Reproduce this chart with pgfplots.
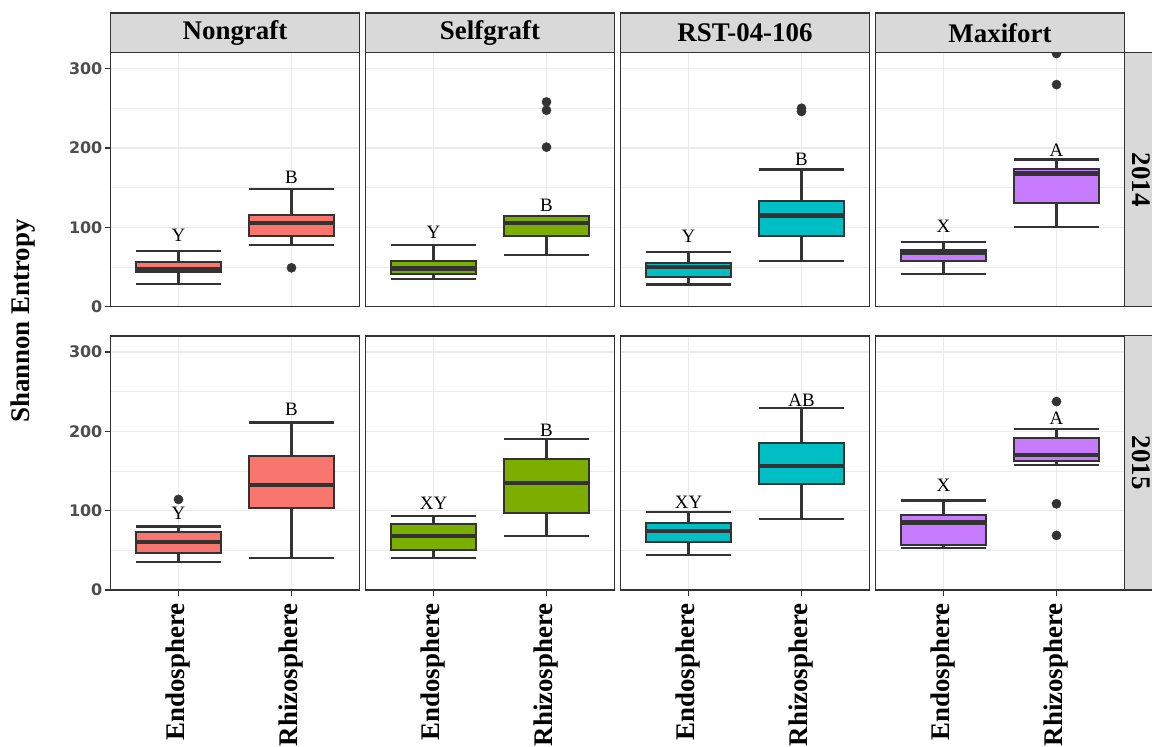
\documentclass[border=0pt]{standalone}
\usepackage{fontspec}
\setmainfont{Liberation Serif}
\newfontfamily\ticksf{DejaVu Sans}
\usepackage{pgfplots}
\pgfplotsset{compat=1.18}
\definecolor{cNon}{HTML}{F8766D}
\definecolor{cSelf}{HTML}{7CAE00}
\definecolor{cRST}{HTML}{00BFC4}
\definecolor{cMax}{HTML}{C77CFF}
\definecolor{g20}{HTML}{333333}
\definecolor{g30}{HTML}{4D4D4D}
\definecolor{g85}{HTML}{D9D9D9}
\definecolor{g92}{HTML}{EBEBEB}
\newcommand{\bigfont}{\bfseries\fontsize{27}{27}\selectfont}
\newcommand{\letfont}{\fontsize{19}{19}\selectfont}
\tikzset{letlab/.style={font=\letfont, text=black}}
\pgfplotsset{
  panel/.style={
    scale only axis, width=248.6bp, height=254bp, anchor=south west,
    xmin=0.4, xmax=2.6, ymin=0, ymax=320,
    xtick={1,2}, ytick={0,100,200,300}, minor ytick={50,150,250},
    xmajorgrids, ymajorgrids, yminorgrids,
    major grid style={g92, line width=1.4bp},
    minor grid style={g92, line width=0.8bp},
    axis line style={g20, line width=1.3bp},
    xticklabels={}, yticklabels={},
    tick align=outside, major tick length=5.7bp, minor tick length=0pt,
    xtick pos=bottom, ytick pos=left,
    xtick style={draw=none}, ytick style={draw=none},
    minor y tick style={draw=none},
    /pgf/number format/assume math mode=true,
  },
  yfirst/.style={
    ytick style={draw=g20, line width=1.3bp},
    yticklabels={0,100,200,300},
    yticklabel style={font=\ticksf\bfseries\fontsize{16}{16}\selectfont, text=g30, inner sep=2.5bp},
  },
  xbottom/.style={
    xtick style={draw=g20, line width=1.3bp},
    xticklabels={Endosphere,Rhizosphere},
    xticklabel style={font=\bigfont, text=black, rotate=90, anchor=east, inner xsep=7.5bp, inner ysep=2bp},
  },
  outlierpts/.style={only marks, mark=*, mark size=4.6bp, mark options={fill=g20, draw=g20}},
}
% #1 colour, #2 left, #3 centre, #4 right, #5 lower whisker, #6 lower quartile, #7 median, #8 upper quartile, #9 upper whisker
\newcommand{\bx}[9]{%
  \addplot[g20, line width=2.1bp] coordinates {(#3,#5) (#3,#6)};
  \addplot[g20, line width=2.1bp] coordinates {(#3,#8) (#3,#9)};
  \addplot[g20, line width=2.1bp] coordinates {(#2,#5) (#4,#5)};
  \addplot[g20, line width=2.1bp] coordinates {(#2,#9) (#4,#9)};
  \addplot[draw=g20, fill=#1, line width=2bp, line cap=rect] coordinates {(#2,#6) (#4,#6) (#4,#8) (#2,#8) (#2,#6)};
  \addplot[g20, line width=4.2bp] coordinates {(#2,#7) (#4,#7)};
}
\begin{document}
\begin{tikzpicture}
\useasboundingbox (0,0) rectangle (1152bp,747bp);
% ---------------- 2014 ----------------
\begin{axis}[panel, yfirst, at={(110.7bp,440.3bp)}]
  \bx{cNon}{0.625}{1}{1.375}{29}{44}{47.5}{56}{70}
  \bx{cNon}{1.625}{2}{2.375}{78}{89}{105}{115}{148}
  \addplot[outlierpts] coordinates {(2,49)};
  \node[letlab] at (axis cs:1,90.2) {Y};
  \node[letlab] at (axis cs:2,162.8) {B};
\end{axis}
\begin{axis}[panel, at={(365.7bp,440.3bp)}]
  \bx{cSelf}{0.625}{1}{1.375}{35}{41}{48}{57}{77.6}
  \bx{cSelf}{1.625}{2}{2.375}{64.6}{89}{105}{114.5}{114.5}
  \addplot[outlierpts] coordinates {(2,258) (2,247.5) (2,201)};
  \node[letlab] at (axis cs:1,94) {Y};
  \node[letlab] at (axis cs:2,127.5) {B};
\end{axis}
\begin{axis}[panel, at={(620.7bp,440.3bp)}]
  \bx{cRST}{0.625}{1}{1.375}{28}{37.8}{50}{54.5}{68.8}
  \bx{cRST}{1.625}{2}{2.375}{57.5}{89}{115}{133}{172.8}
  \addplot[outlierpts] coordinates {(2,246) (2,250)};
  \node[letlab] at (axis cs:1,89.3) {Y};
  \node[letlab] at (axis cs:2,185.8) {B};
\end{axis}
\begin{axis}[panel, at={(875.7bp,440.3bp)}]
  \bx{cMax}{0.625}{1}{1.375}{40.7}{57.5}{68.4}{72}{81}
  \bx{cMax}{1.625}{2}{2.375}{100}{131}{167.8}{173.7}{185.4}
  \addplot[outlierpts] coordinates {(2,279.8) (2,319)};
  \node[letlab] at (axis cs:1,101.5) {X};
  \node[letlab] at (axis cs:2,197) {A};
\end{axis}
% ---------------- 2015 ----------------
\begin{axis}[panel, yfirst, xbottom, at={(110.7bp,157bp)}]
  \bx{cNon}{0.625}{1}{1.375}{35.7}{47}{60}{72.6}{80}
  \bx{cNon}{1.625}{2}{2.375}{40}{103.6}{132}{169}{211}
  \addplot[outlierpts] coordinates {(1,114.1)};
  \node[letlab] at (axis cs:1,96) {Y};
  \node[letlab] at (axis cs:2,227) {B};
\end{axis}
\begin{axis}[panel, xbottom, at={(365.7bp,157bp)}]
  \bx{cSelf}{0.625}{1}{1.375}{40}{50.3}{68.4}{83}{92.7}
  \bx{cSelf}{1.625}{2}{2.375}{68}{96.5}{135}{165}{190}
  \node[letlab] at (axis cs:1,108.6) {XY};
  \node[letlab] at (axis cs:2,201) {B};
\end{axis}
\begin{axis}[panel, xbottom, at={(620.7bp,157bp)}]
  \bx{cRST}{0.625}{1}{1.375}{43.6}{61}{74}{84}{98}
  \bx{cRST}{1.625}{2}{2.375}{89}{134}{156.5}{184.6}{229.5}
  \node[letlab] at (axis cs:1,110.7) {XY};
  \node[letlab] at (axis cs:2,239.5) {AB};
\end{axis}
\begin{axis}[panel, xbottom, at={(875.7bp,157bp)}]
  \bx{cMax}{0.625}{1}{1.375}{52.9}{56.6}{85.1}{94.4}{112.8}
  \bx{cMax}{1.625}{2}{2.375}{157.3}{162.3}{170.3}{191.3}{203.4}
  \addplot[outlierpts] coordinates {(2,237.4) (2,108.6) (2,68.8)};
  \node[letlab] at (axis cs:1,131.7) {X};
  \node[letlab] at (axis cs:2,216.9) {A};
\end{axis}
% ---------------- strips ----------------
\foreach \L/\T in {110.7/Nongraft, 365.7/Selfgraft, 620.7/RST-04-106, 875.7/Maxifort}{
  \draw[g20, fill=g85, line width=1.3bp] (\L bp,694.3bp) rectangle ({(\L+248.6)*1bp},734bp);
  \node[font=\bigfont, text=black] at ({(\L+124.3)*1bp},714.2bp) {\T};
}
\draw[g20, fill=g85, line width=1.3bp] (1124.3bp,440.3bp) rectangle (1164bp,694.3bp);
\node[font=\bigfont, text=black, rotate=-90] at (1140.8bp,567.3bp) {2014};
\draw[g20, fill=g85, line width=1.3bp] (1124.3bp,157bp) rectangle (1164bp,411.3bp);
\node[font=\bigfont, text=black, rotate=-90] at (1140.8bp,284.2bp) {2015};
% y label
\node[font=\bigfont, text=black, rotate=90] at (23bp,426bp) {Shannon Entropy};
\end{tikzpicture}
\end{document}
